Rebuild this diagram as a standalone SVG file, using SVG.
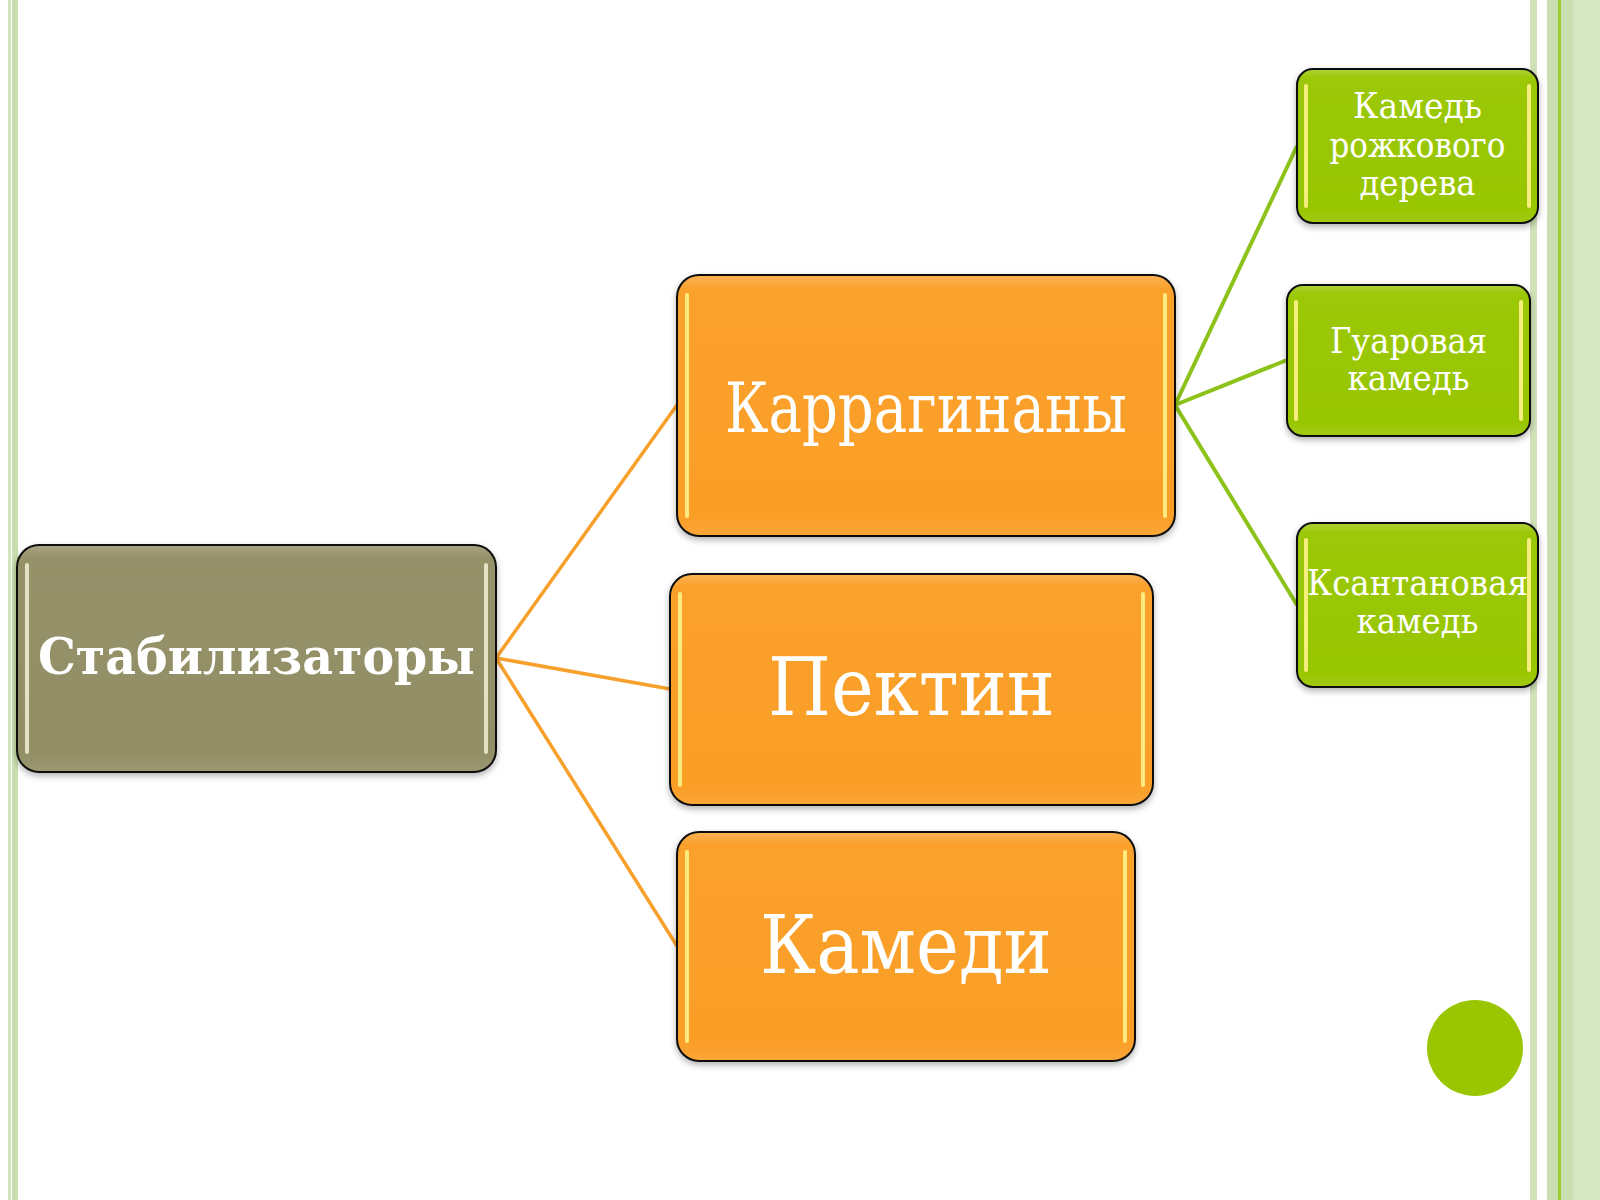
<svg xmlns="http://www.w3.org/2000/svg" width="1600" height="1200" viewBox="0 0 1600 1200">
<defs>
<filter id="sh" x="-10%" y="-10%" width="120%" height="130%">
<feDropShadow dx="0" dy="3" stdDeviation="3" flood-color="#000" flood-opacity="0.3"/>
</filter>
<linearGradient id="gloss" x1="0" y1="0" x2="0" y2="1">
<stop offset="0" stop-color="#fff" stop-opacity="0.2"/>
<stop offset="0.05" stop-color="#fff" stop-opacity="0.03"/>
<stop offset="0.92" stop-color="#fff" stop-opacity="0"/>
<stop offset="1" stop-color="#fff" stop-opacity="0.08"/>
</linearGradient>
</defs>
<style>
.box{stroke:#111;stroke-width:2}
.olive{fill:#928e65}
.orange{fill:#fa9e26}
.green{fill:#98c600}
.hl{stroke:#fff48a;stroke-width:4;stroke-linecap:round;opacity:0.9}
.t{fill:#fff;font-family:"DejaVu Serif","Liberation Serif",serif;text-anchor:middle}
.tb{font-weight:bold}
.co{stroke:#f7a02b;stroke-width:3.5;fill:none}
.cg{stroke:#8cc21a;stroke-width:4;fill:none}
</style>
<rect width="1600" height="1200" fill="#fff"/>
<g id="border">
<rect x="8" y="0" width="3" height="1200" fill="#d2e4bb"/>
<rect x="12" y="0" width="6" height="1200" fill="#c8dfad"/>
<rect x="1530" y="0" width="7" height="1200" fill="#cfe2b8"/>
<rect x="1547" y="0" width="53" height="1200" fill="#d5e7c1"/>
<rect x="1547" y="0" width="11" height="1200" fill="#cadfb0"/>
<rect x="1558" y="0" width="3" height="1200" fill="#9ccb2e"/>
<rect x="1561" y="0" width="12" height="1200" fill="#cadfb0"/>
<circle cx="1475" cy="1048" r="48" fill="#99c600"/>
</g>
<g id="connectors">
<line class="co" x1="496" y1="658" x2="677" y2="405"/>
<line class="co" x1="496" y1="658" x2="670" y2="689"/>
<line class="co" x1="496" y1="658" x2="677" y2="946"/>
<line class="cg" x1="1175" y1="405" x2="1297" y2="146"/>
<line class="cg" x1="1175" y1="405" x2="1287" y2="360"/>
<line class="cg" x1="1175" y1="405" x2="1297" y2="605"/>
</g>
<g id="stabilizatory">
<rect class="box olive" x="17" y="545" width="479" height="227" rx="22" filter="url(#sh)"/>
<rect x="18" y="546" width="477" height="225" rx="21" fill="url(#gloss)"/>
<line class="hl" x1="27" y1="565" x2="27" y2="752" style="stroke:#ecebd0"/>
<line class="hl" x1="486" y1="565" x2="486" y2="752" style="stroke:#ecebd0"/>
<text class="t tb" x="256.5" y="674" font-size="51" textLength="437" lengthAdjust="spacingAndGlyphs">Стабилизаторы</text>
</g>
<g id="karraginany">
<rect class="box orange" x="677" y="275" width="498" height="261" rx="22" filter="url(#sh)"/>
<rect x="678" y="276" width="496" height="259" rx="21" fill="url(#gloss)"/>
<line class="hl" x1="687" y1="295" x2="687" y2="516"/>
<line class="hl" x1="1165" y1="295" x2="1165" y2="516"/>
<text class="t" x="926" y="432" font-size="70" textLength="402" lengthAdjust="spacingAndGlyphs">Каррагинаны</text>
</g>
<g id="pektin">
<rect class="box orange" x="670" y="574" width="483" height="231" rx="22" filter="url(#sh)"/>
<rect x="671" y="575" width="481" height="229" rx="21" fill="url(#gloss)"/>
<line class="hl" x1="680" y1="594" x2="680" y2="785"/>
<line class="hl" x1="1143" y1="594" x2="1143" y2="785"/>
<text class="t" x="911.5" y="715" font-size="80" textLength="287" lengthAdjust="spacingAndGlyphs">Пектин</text>
</g>
<g id="kamedi">
<rect class="box orange" x="677" y="832" width="458" height="229" rx="22" filter="url(#sh)"/>
<rect x="678" y="833" width="456" height="227" rx="21" fill="url(#gloss)"/>
<line class="hl" x1="687" y1="852" x2="687" y2="1041"/>
<line class="hl" x1="1125" y1="852" x2="1125" y2="1041"/>
<text class="t" x="906" y="973" font-size="80" textLength="292" lengthAdjust="spacingAndGlyphs">Камеди</text>
</g>
<g id="kamed-rozhkovogo">
<rect class="box green" x="1297" y="69" width="241" height="154" rx="16" filter="url(#sh)"/>
<rect x="1298" y="70" width="239" height="152" rx="15" fill="url(#gloss)"/>
<line class="hl" x1="1306" y1="86" x2="1306" y2="206"/>
<line class="hl" x1="1529" y1="86" x2="1529" y2="206"/>
<text class="t" x="1417.5" y="118" font-size="36" textLength="129" lengthAdjust="spacingAndGlyphs">Камедь</text>
<text class="t" x="1417.5" y="157" font-size="36" textLength="176" lengthAdjust="spacingAndGlyphs">рожкового</text>
<text class="t" x="1417.5" y="195" font-size="36" textLength="116" lengthAdjust="spacingAndGlyphs">дерева</text>
</g>
<g id="guarovaya">
<rect class="box green" x="1287" y="285" width="243" height="151" rx="16" filter="url(#sh)"/>
<rect x="1288" y="286" width="241" height="149" rx="15" fill="url(#gloss)"/>
<line class="hl" x1="1296" y1="302" x2="1296" y2="419"/>
<line class="hl" x1="1521" y1="302" x2="1521" y2="419"/>
<text class="t" x="1408.5" y="353" font-size="36" textLength="157" lengthAdjust="spacingAndGlyphs">Гуаровая</text>
<text class="t" x="1408.5" y="390" font-size="36" textLength="122" lengthAdjust="spacingAndGlyphs">камедь</text>
</g>
<g id="ksantanovaya">
<rect class="box green" x="1297" y="523" width="241" height="164" rx="16" filter="url(#sh)"/>
<rect x="1298" y="524" width="239" height="162" rx="15" fill="url(#gloss)"/>
<line class="hl" x1="1306" y1="540" x2="1306" y2="670"/>
<line class="hl" x1="1529" y1="540" x2="1529" y2="670"/>
<text class="t" x="1417.5" y="595" font-size="36" textLength="221" lengthAdjust="spacingAndGlyphs">Ксантановая</text>
<text class="t" x="1417.5" y="633" font-size="36" textLength="122" lengthAdjust="spacingAndGlyphs">камедь</text>
</g>
</svg>
